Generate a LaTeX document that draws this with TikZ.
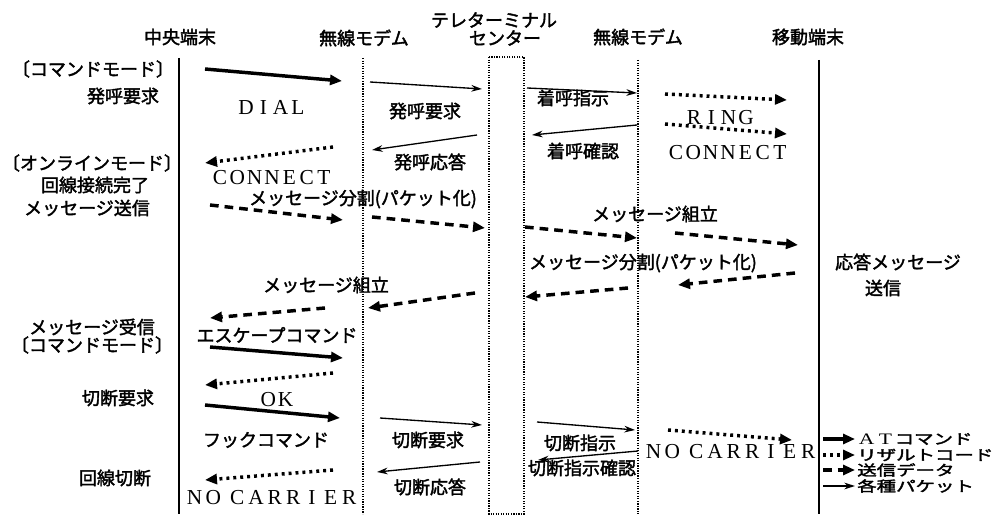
\documentclass[tikz,border=0pt]{standalone}
\usepackage{fontspec}
\setmainfont{Liberation Serif}
\newfontfamily\jp[FakeBold=2]{Noto Sans CJK JP}
\newfontfamily\lat{Liberation Serif}
\usetikzlibrary{arrows.meta}
\newcommand{\sqarrow}[4]{\coordinate (#2s) at (#3); \coordinate (#2e) at (#4); \draw[#1] (#2s) -- (#2e);}
\newlength{\fwlen}
\setlength{\fwlen}{13pt}
\def\fw#1{\fwi#1\relax}
\def\fwi#1{\ifx#1\relax\else\makebox[\fwlen][c]{#1}\expandafter\fwi\fi}
\newcommand{\nocarrier}{{\setlength{\fwlen}{14pt}\fw{NO}\makebox[4pt]{\ }\fw{CARRIER}}}
\tikzset{
  jt/.style={font=\jp\fontsize{13.5}{15}\selectfont, inner sep=0pt},
  lt/.style={font=\lat\fontsize{16}{17}\selectfont, inner sep=0pt},
  atarr/.style={line width=2.6pt, -{Triangle[length=9pt,width=7.5pt]}},
  resarr/.style={line width=2.6pt, dash pattern=on 2.2pt off 3pt, -{Triangle[length=9pt,width=7.5pt]}},
  dataarr/.style={line width=2.6pt, dash pattern=on 6.5pt off 4.5pt, -{Triangle[length=9pt,width=7.5pt]}},
  pktarr/.style={line width=1pt, -{Stealth[length=8pt,width=5pt]}},
  solidlife/.style={line width=1.1pt},
  dotlife/.style={line width=0.9pt, densely dotted},
}
\begin{document}
\begin{tikzpicture}[x=0.75pt,y=-0.75pt]
\useasboundingbox (0,0) rectangle (996,516);
% titles
\node[jt] (t1) at (180,37) {中央端末};
\node[jt] (t2) at (364,38) {無線モデム};
\node[jt] (t3a) at (494,20) {テレターミナル};
\node[jt] (t3b) at (505,38) {センター};
\node[jt] (t4) at (638,37) {無線モデム};
\node[jt] (t5) at (808,37) {移動端末};
% lifelines
\coordinate (l1t) at (179,58); \coordinate (l1b) at (179,514);
\coordinate (l2t) at (363,58); \coordinate (l2b) at (363,514);
\coordinate (l4t) at (638,60); \coordinate (l4b) at (638,514);
\coordinate (l5t) at (819,60); \coordinate (l5b) at (819,514);
\coordinate (boxA) at (489,57); \coordinate (boxB) at (524,514);
\draw[solidlife] (l1t) -- (l1b);
\draw[dotlife] (l2t) -- (l2b);
\draw[dotlife] (l4t) -- (l4b);
\draw[solidlife, line width=1.4pt] (l5t) -- (l5b);
\draw[dotlife] (boxA) rectangle (boxB);
% left labels
\node[jt] (s1) at (93,69) {〔コマンドモード〕};
\node[jt] (s2) at (123,96) {発呼要求};
\node[jt] (s3) at (92,163) {〔オンラインモード〕};
\node[jt] (s4) at (95,185) {回線接続完了};
\node[jt] (s5) at (87,208) {メッセージ送信};
\node[jt] (s6) at (92,327) {メッセージ受信};
\node[jt] (s7) at (92,345) {〔コマンドモード〕};
\node[jt] (s8) at (118,398) {切断要求};
\node[jt] (s9) at (115,478) {回線切断};
% message labels
\node[lt] (m1) at (272,107) {\fw{DIAL}};
\node[jt] (m2) at (425,111) {発呼要求};
\node[jt] (m3) at (573,98) {着呼指示};
\node[lt] (m4) at (720,118) {\fw{RING}};
\node[lt] (m5) at (728,153) {\fw{CONNECT}};
\node[jt] (m6) at (583,151) {着呼確認};
\node[jt] (m7) at (430,162) {発呼応答};
\node[lt] (m8) at (272,178) {\fw{CONNECT}};
\node[jt] (m9) at (363,199) {メッセージ分割(パケット化)};
\node[jt] (m10) at (655,214) {メッセージ組立};
\node[jt] (m11) at (898,262) {応答メッセージ};
\node[jt] (m12) at (883,288) {送信};
\node[jt] (m13) at (643,263) {メッセージ分割(パケット化)};
\node[jt] (m14) at (326,285) {メッセージ組立};
\node[jt] (m15) at (277,335) {エスケープコマンド};
\node[lt] (m16) at (277,400) {\fw{OK}};
\node[jt] (m17) at (266,440) {フックコマンド};
\node[jt] (m18) at (428,440) {切断要求};
\node[jt] (m19) at (430,487) {切断応答};
\node[lt] (m20) at (272,498) {\nocarrier};
\node[jt] (m21) at (580,443) {切断指示};
\node[jt] (m22) at (582,468) {切断指示確認};
\node[lt] (m23) at (731,452) {\nocarrier};
% arrows
\sqarrow{atarr}{a1}{205,69}{342,81}
\sqarrow{pktarr}{a2}{370,82}{482,89}
\sqarrow{pktarr}{a3}{527,88}{637,93}
\sqarrow{resarr}{a4}{665,94}{787,100}
\sqarrow{resarr}{a5}{665,124}{787,134}
\sqarrow{pktarr}{a6}{637,125}{532,135}
\sqarrow{pktarr}{a7}{477,135}{372,150}
\sqarrow{resarr}{a8}{333,147}{205,163}
\sqarrow{dataarr}{a9}{210,205}{343,220}
\sqarrow{dataarr}{a10}{372,217}{485,228}
\sqarrow{dataarr}{a11}{525,227}{637,238}
\sqarrow{dataarr}{a12}{675,233}{798,245}
\sqarrow{dataarr}{a13}{795,273}{678,285}
\sqarrow{dataarr}{a14}{628,288}{525,297}
\sqarrow{dataarr}{a15}{475,293}{368,308}
\sqarrow{dataarr}{a16}{325,308}{210,318}
\sqarrow{atarr}{a17}{210,347}{343,358}
\sqarrow{resarr}{a18}{333,373}{205,385}
\sqarrow{atarr}{a19}{205,405}{340,418}
\sqarrow{pktarr}{a20}{380,418}{482,425}
\sqarrow{pktarr}{a21}{480,462}{377,472}
\sqarrow{resarr}{a22}{333,470}{205,480}
\sqarrow{pktarr}{a23}{537,422}{635,430}
\sqarrow{pktarr}{a24}{638,451}{538,460}
\sqarrow{resarr}{a25}{668,430}{792,440}
% legend
\sqarrow{atarr}{g1}{823,439}{855,439}
\sqarrow{resarr}{g2}{823,455}{855,455}
\sqarrow{dataarr}{g3}{823,470}{855,470}
\sqarrow{pktarr}{g4}{823,486}{855,486}
\node[jt, anchor=west] (k1) at (857,439) {\scalebox{1.08}[0.8]{{\lat\fontsize{15}{16}\selectfont\fw{AT}}コマンド}};
\node[jt, anchor=west] (k2) at (857,455) {\scalebox{1.08}[0.8]{リザルトコード}};
\node[jt, anchor=west] (k3) at (857,470) {\scalebox{1.08}[0.8]{送信データ}};
\node[jt, anchor=west] (k4) at (857,486) {\scalebox{1.08}[0.8]{各種パケット}};
\end{tikzpicture}
\end{document}
